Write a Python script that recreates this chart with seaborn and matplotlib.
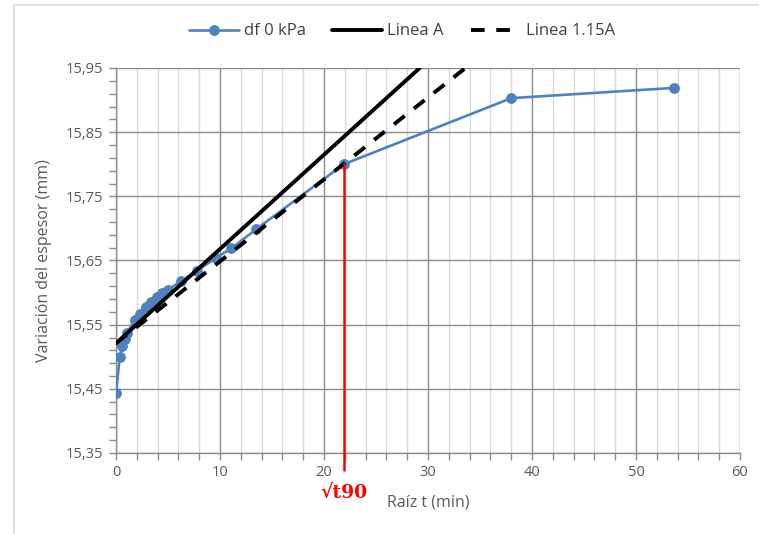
import matplotlib
matplotlib.use("Agg")
import numpy as np
import pandas as pd
import matplotlib.pyplot as plt
import matplotlib.ticker as mticker
from matplotlib.lines import Line2D
from matplotlib.transforms import blended_transform_factory
import seaborn as sns

# Datos (raiz del tiempo vs espesor)
raiz_t = [0.0, 0.36, 0.58, 0.85, 1.06, 1.8, 2.3, 2.9, 3.4, 3.9, 4.4, 5.0,
          6.25, 7.8, 9.6, 11.1, 13.5, 21.9, 38.0, 53.65]
espesor = [15.443, 15.499, 15.516, 15.527, 15.537, 15.557, 15.567, 15.578, 15.585,
           15.593, 15.599, 15.604, 15.618, 15.634, 15.654, 15.669, 15.699, 15.800,
           15.903, 15.919]

# Recta A y recta 1.15A (mismo origen)
lineaA_x = [0.0, 29.2]
lineaA_y = [15.521, 15.95]
linea115_x = [0.0, 33.6]
linea115_y = [15.521, 15.95]

t90_x = 21.9
t90_y = 15.80

y_ticks = [15.35, 15.45, 15.55, 15.65, 15.75, 15.85, 15.95]

sns.set_style("white")
plt.rcParams["font.family"] = ["Open Sans", "DejaVu Sans"]

fig = plt.figure(figsize=(7.59, 5.34), dpi=100)
ax = fig.add_axes([116 / 759, 1 - 453 / 534, (740 - 116) / 759, (453 - 68) / 534])

df = pd.DataFrame({"x": raiz_t, "y": espesor})
blue = "#4F81BD"
sns.lineplot(data=df, x="x", y="y", ax=ax, color=blue, lw=1.9, marker="o",
             markersize=7, markeredgecolor=blue, label="df 0 kPa", zorder=3)
sns.lineplot(x=lineaA_x, y=lineaA_y, ax=ax, color="black", lw=2.8,
             label="Linea A", zorder=4)
sns.lineplot(x=linea115_x, y=linea115_y, ax=ax, color="black", lw=2.8,
             label="Linea 1.15A", zorder=4)
ax.lines[-1].set_dashes([3.5, 3])

# linea vertical roja en sqrt(t90)
ax.plot([t90_x, t90_x], [t90_y, 15.323], color="red", lw=1.8, clip_on=False, zorder=5)

ax.set_xlim(0, 60)
ax.set_ylim(15.35, 15.95)
ax.xaxis.set_major_locator(mticker.MultipleLocator(10))
ax.xaxis.set_minor_locator(mticker.MultipleLocator(2))
ax.yaxis.set_major_locator(mticker.FixedLocator(y_ticks))
ax.yaxis.set_minor_locator(mticker.FixedLocator(np.arange(15.35, 15.951, 0.02)))
ax.yaxis.set_major_formatter(mticker.FuncFormatter(lambda v, p: f"{v:.2f}".replace(".", ",")))

ax.grid(which="major", color="#8C8C8C", lw=1.0)
ax.grid(which="minor", axis="x", color="#D9D9D9", lw=1.0)
ax.set_axisbelow(True)
for s in ["top", "right"]:
    ax.spines[s].set_visible(False)
for s in ["left", "bottom"]:
    ax.spines[s].set_color("#8C8C8C")
    ax.spines[s].set_linewidth(1.0)

ax.tick_params(which="both", direction="out", length=5, width=1, color="#8C8C8C",
               labelcolor="#595959", labelsize=10.5, left=True, bottom=True)
ax.tick_params(which="major", pad=4)

ax.set_xlabel("Raíz t (min)", color="#595959", fontsize=11.5, labelpad=10)
ax.set_ylabel("Variación del espesor (mm)", color="#595959", fontsize=11.5, labelpad=10)

tr = blended_transform_factory(ax.transData, ax.transAxes)
ax.text(t90_x, -0.105, "√t90", transform=tr, color="red", fontsize=13.5,
        fontweight="bold", family=["DejaVu Serif"], ha="center", va="center")

leg = ax.legend(loc="center", bbox_to_anchor=(0.458, 1.095), ncol=3, frameon=False,
                fontsize=12, handlelength=3.0, columnspacing=1.6, handletextpad=0.3)
for t in leg.get_texts():
    t.set_color("#404040")

# borde del area del grafico
fig.add_artist(Line2D([14 / 759, 14 / 759], [0, 1 - 5 / 534], color="#D9D9D9", lw=1.2))
fig.add_artist(Line2D([14 / 759, 1], [1 - 5 / 534, 1 - 5 / 534], color="#D9D9D9", lw=1.2))

fig.savefig("out.png", dpi=100)
